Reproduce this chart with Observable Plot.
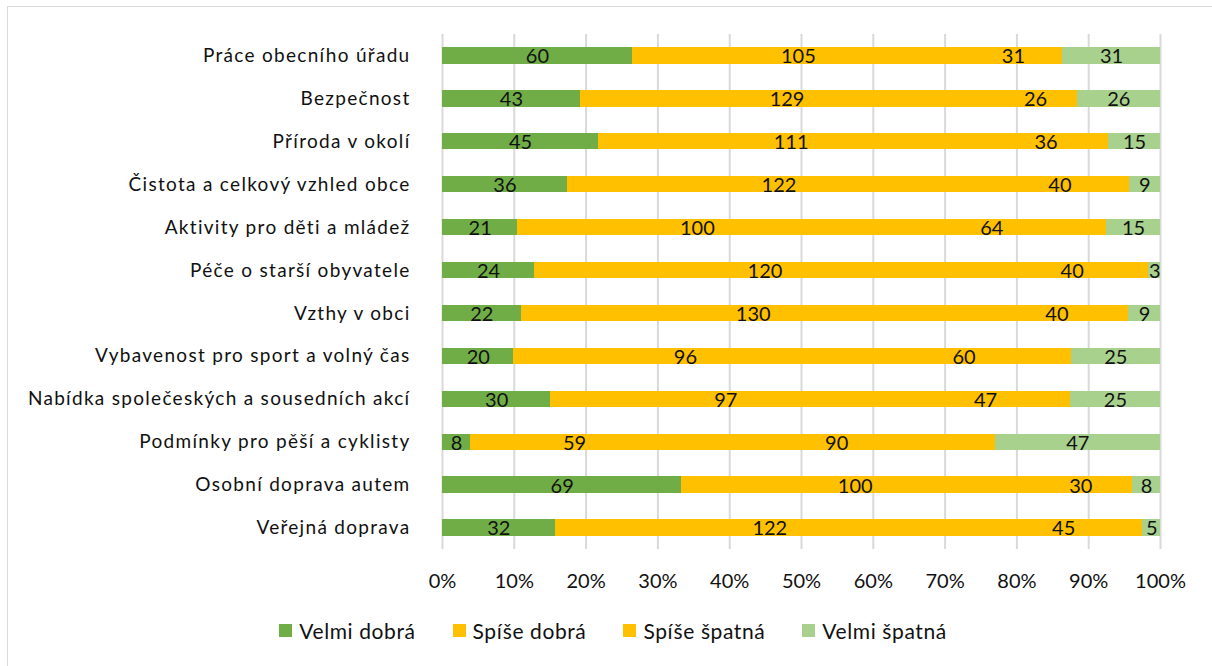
<!DOCTYPE html>
<html>
<head>
<meta charset="utf-8">
<script src="https://cdn.jsdelivr.net/npm/d3@7"></script>
<script src="https://cdn.jsdelivr.net/npm/@observablehq/plot@0.6"></script>
<style>
  html, body { margin: 0; padding: 0; background: #fff; }
  body { width: 1212px; height: 666px; position: relative; overflow: hidden; font-family: Lato, "Open Sans", sans-serif; }
  #frame { position: absolute; left: 7px; top: 6px; width: 1300px; height: 700px; border-left: 1px solid #D9D9D9; border-top: 1px solid #D9D9D9; }
  #chart { position: absolute; left: 0; top: 0; }
  #legend { position: absolute; left: 0; width: 1212px; top: 618px; display: flex; justify-content: center; gap: 37px; font-size: 21px; letter-spacing: 0.6px; color: #111; padding-left: 14px; box-sizing: border-box; }
  .item { display: flex; align-items: center; gap: 7px; }
  .sw { width: 13px; height: 13px; display: inline-block; }
  #chart svg .ylab text { letter-spacing: 1.3px; }
</style>
</head>
<body>
<div id="frame"></div>
<div id="chart"></div>
<div id="legend"></div>
<script>
const categories = [
  "Práce obecního úřadu",
  "Bezpečnost",
  "Příroda v okolí",
  "Čistota a celkový vzhled obce",
  "Aktivity pro děti a mládež",
  "Péče o starší obyvatele",
  "Vzthy v obci",
  "Vybavenost pro sport a volný čas",
  "Nabídka společeských a sousedních akcí",
  "Podmínky pro pěší a cyklisty",
  "Osobní doprava autem",
  "Veřejná doprava"
];
const series = ["Velmi dobrá", "Spíše dobrá", "Spíše špatná", "Velmi špatná"];
const velmiDobra  = [60, 43, 45, 36, 21, 24, 22, 20, 30, 8, 69, 32];
const spiseDobra  = [105, 129, 111, 122, 100, 120, 130, 96, 97, 59, 100, 122];
const spiseSpatna = [31, 26, 36, 40, 64, 40, 40, 60, 47, 90, 30, 45];
const velmiSpatna = [31, 26, 15, 9, 15, 3, 9, 25, 25, 47, 8, 5];
const colors = ["#70AD47", "#FFC000", "#FFC000", "#A9D18E"];
const xTicks = [0, 0.1, 0.2, 0.3, 0.4, 0.5, 0.6, 0.7, 0.8, 0.9, 1];

const seriesValues = [velmiDobra, spiseDobra, spiseSpatna, velmiSpatna];
const data = [];
categories.forEach((c, i) => {
  series.forEach((s, j) => data.push({cat: c, series: s, value: seriesValues[j][i]}));
});

const chart = Plot.plot({
  width: 1212,
  height: 600,
  marginLeft: 442,
  marginRight: 52,
  marginTop: 34,
  marginBottom: 51,
  style: {fontFamily: "Lato, 'Open Sans', sans-serif", fontSize: "19px", color: "#111", background: "transparent"},
  x: {domain: [0, 1], ticks: xTicks, tickFormat: d => Math.round(d * 100) + "%", tickSize: 0, label: null},
  y: {domain: categories, label: null, paddingInner: 0.62, paddingOuter: 0.31, round: false},
  color: {domain: series, range: colors},
  marks: [
    Plot.ruleX(xTicks, {stroke: "#D9D9D9", strokeWidth: 2}),
    Plot.axisX({ticks: xTicks, tickFormat: d => Math.round(d * 100) + "%", tickSize: 0, tickPadding: 24, fontSize: 20, label: null}),
    Plot.axisY({tickSize: 0, tickPadding: 32, fontSize: 19, label: null, className: "ylab"}),
    Plot.barX(data, Plot.stackX({x: "value", y: "cat", z: "series", fill: "series", offset: "normalize", shapeRendering: "crispEdges"})),
    Plot.text(data, Plot.stackX({x: "value", y: "cat", z: "series", offset: "normalize", text: "value", fill: "#111", fontSize: 20, dy: 1}))
  ]
});
document.getElementById("chart").appendChild(chart);

const legend = document.getElementById("legend");
series.forEach((s, j) => {
  const it = document.createElement("div");
  it.className = "item";
  const sw = document.createElement("span");
  sw.className = "sw";
  sw.style.background = colors[j];
  const t = document.createElement("span");
  t.textContent = s;
  it.appendChild(sw);
  it.appendChild(t);
  legend.appendChild(it);
});
</script>
</body>
</html>
